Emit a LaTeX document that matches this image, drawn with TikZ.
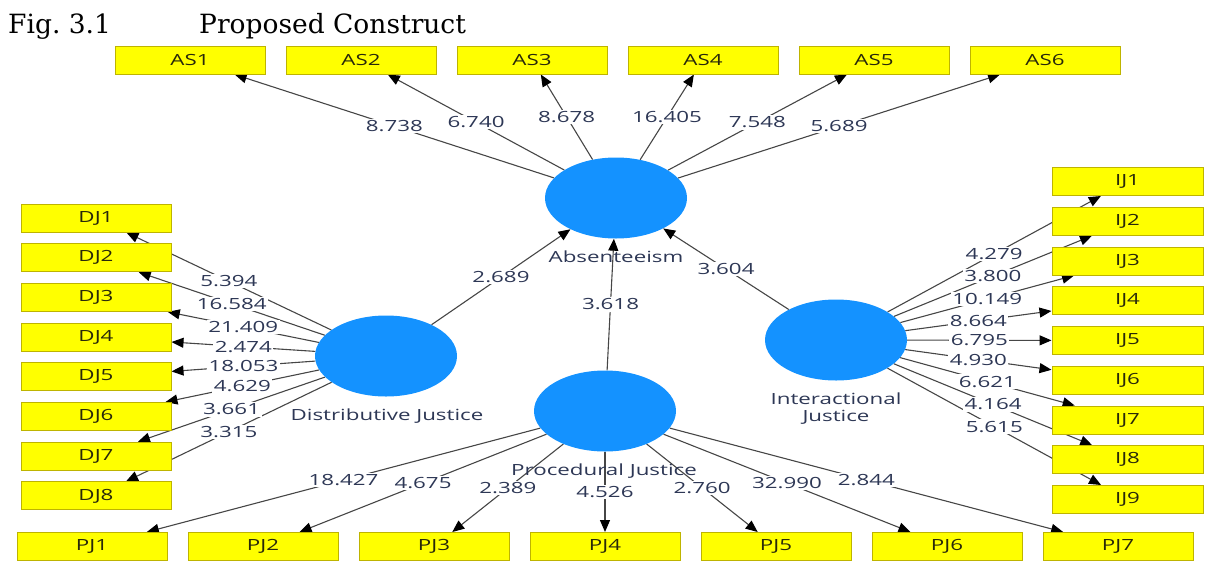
\documentclass[tikz,border=0pt]{standalone}
\usepackage{fontspec}
\setmainfont{DejaVu Serif}
\newfontfamily\plsfont[FakeStretch=1.45]{Open Sans}
\usetikzlibrary{shapes.geometric,arrows.meta}
\pgfdeclarelayer{lines}
\pgfdeclarelayer{labels}
\pgfsetlayers{lines,labels,main}
\definecolor{plsyellow}{RGB}{255,255,0}
\definecolor{plsborder}{RGB}{190,180,0}
\definecolor{plsblue}{RGB}{20,146,255}
\definecolor{plstext}{RGB}{45,55,85}
\definecolor{boxtext}{RGB}{40,40,10}
\definecolor{plsline}{RGB}{70,70,70}
\newcommand\plsf{\plsfont\fontsize{15.4}{17}\selectfont}
\newcommand\plsedge[3]{%
  \begin{pgfonlayer}{lines}\draw[arr] (#1) -- (#2);\end{pgfonlayer}%
  \begin{pgfonlayer}{labels}\path (#1) -- (#2) node[lbl,midway]{#3};\end{pgfonlayer}}
\tikzset{
  ind/.style={draw=plsborder, line width=1pt, fill=plsyellow, minimum width=150pt,
    minimum height=28pt, inner sep=0pt, font=\plsf, text=boxtext},
  lv/.style={ellipse, fill=plsblue, minimum width=142pt, minimum height=81pt, inner sep=0pt},
  lvname/.style={font=\plsf, text=plstext, align=center, inner sep=0pt},
  lbl/.style={fill=white, inner sep=1.5pt, font=\plsf, text=plstext},
  arr/.style={draw=plsline, line width=1.1pt, -{Triangle[length=12pt,width=10pt,color=black]}},
  ttl/.style={anchor=base west, inner sep=0pt, font=\fontsize{26.5}{30}\selectfont}
}
\begin{document}
\begin{tikzpicture}[x=1pt,y=-1pt]
\useasboundingbox (0,0) rectangle (1205,563);
% title
\node[ttl] (fig) at (8,33) {Fig.\ 3.1};
\node[ttl] (ptitle) at (199,33) {Proposed Construct};
% latent variables
\node[lv] (ABS) at (616,198) {};
\node[lv] (DJ) at (386,356) {};
\node[lv] (PJ) at (605,411) {};
\node[lv] (IJ) at (836,340) {};
\node[lvname] (absn) at (616,257) {Absenteeism};
\node[lvname] (djn) at (387,416) {Distributive Justice};
\node[lvname] (pjn) at (604,471) {Procedural Justice};
\node[lvname] (ijn) at (836,409) {Interactional\\Justice};
% AS indicators
\foreach \i in {1,...,6} {
  \node[ind] (AS\i) at ({190+171*(\i-1)},60) {AS\i};
}
% DJ indicators
\foreach \i in {1,...,8} {
  \node[ind] (DJ\i) at (96,{218+39.7*(\i-1)}) {DJ\i};
}
% IJ indicators
\foreach \i in {1,...,9} {
  \node[ind, minimum width=151pt] (IJ\i) at (1127.5,{181.5+39.75*(\i-1)}) {IJ\i};
}
% PJ indicators
\foreach \i in {1,...,7} {
  \node[ind] (PJ\i) at ({92+171*(\i-1)},546.5) {PJ\i};
}
% AS edges
\plsedge{ABS}{AS1}{8.738}
\plsedge{ABS}{AS2}{6.740}
\plsedge{ABS}{AS3}{8.678}
\plsedge{ABS}{AS4}{16.405}
\plsedge{ABS}{AS5}{7.548}
\plsedge{ABS}{AS6}{5.689}
% DJ edges
\plsedge{DJ}{DJ1}{5.394}
\plsedge{DJ}{DJ2}{16.584}
\plsedge{DJ}{DJ3}{21.409}
\plsedge{DJ}{DJ4}{2.474}
\plsedge{DJ}{DJ5}{18.053}
\plsedge{DJ}{DJ6}{4.629}
\plsedge{DJ}{DJ7}{3.661}
\plsedge{DJ}{DJ8}{3.315}
% IJ edges
\plsedge{IJ}{IJ1}{4.279}
\plsedge{IJ}{IJ2}{3.800}
\plsedge{IJ}{IJ3}{10.149}
\plsedge{IJ}{IJ4}{8.664}
\plsedge{IJ}{IJ5}{6.795}
\plsedge{IJ}{IJ6}{4.930}
\plsedge{IJ}{IJ7}{6.621}
\plsedge{IJ}{IJ8}{4.164}
\plsedge{IJ}{IJ9}{5.615}
% PJ edges
\plsedge{PJ}{PJ1}{18.427}
\plsedge{PJ}{PJ2}{4.675}
\plsedge{PJ}{PJ3}{2.389}
\plsedge{PJ}{PJ4}{4.526}
\plsedge{PJ}{PJ5}{2.760}
\plsedge{PJ}{PJ6}{32.990}
\plsedge{PJ}{PJ7}{2.844}
% structural edges
\plsedge{DJ}{ABS}{2.689}
\plsedge{PJ}{ABS}{3.618}
\plsedge{IJ}{ABS}{3.604}
\end{tikzpicture}
\end{document}
